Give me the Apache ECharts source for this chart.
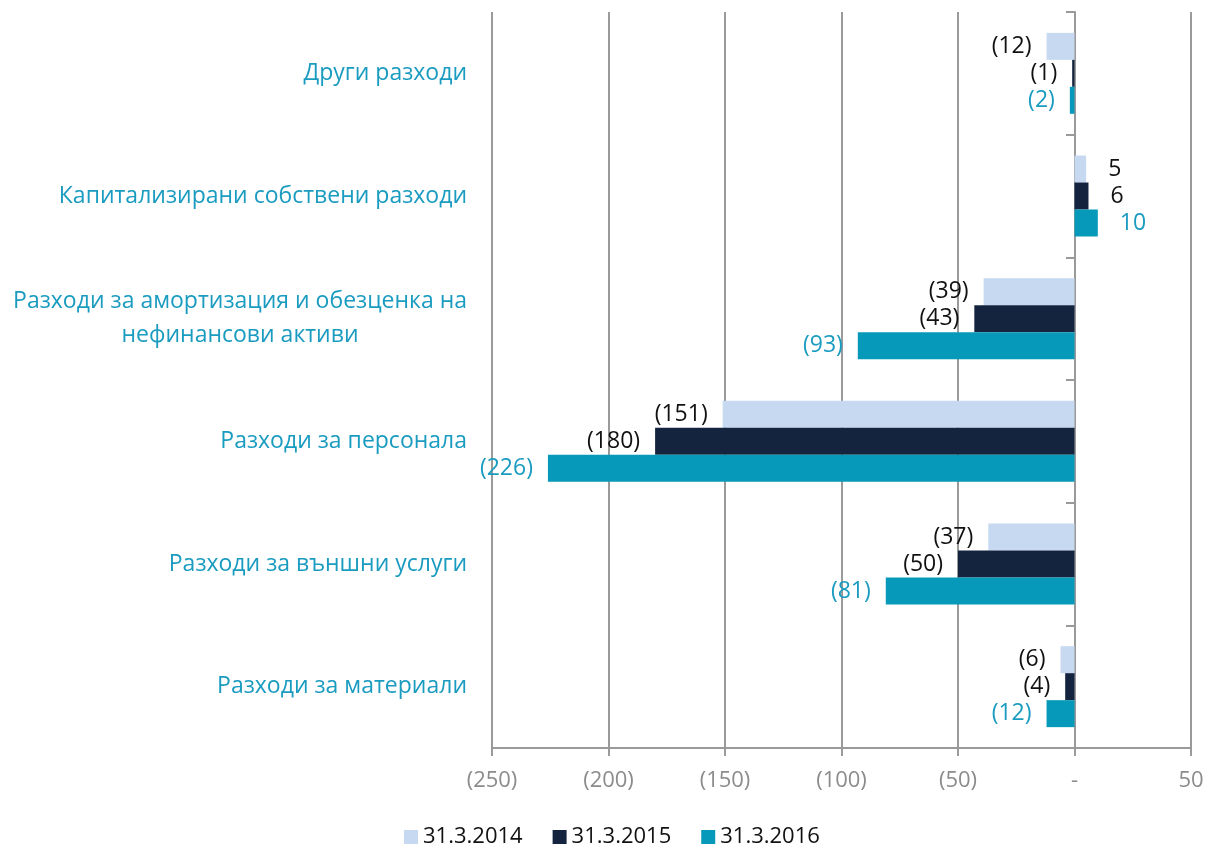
<!DOCTYPE html>
<html>
<head>
<meta charset="utf-8">
<script src="https://cdn.jsdelivr.net/npm/echarts@6/dist/echarts.min.js"></script>
<style>
  html, body { margin: 0; padding: 0; background: #fff; }
  #chart { width: 1207px; height: 851px; }
</style>
</head>
<body>
<div id="chart"></div>
<script>
// categories, top to bottom
const categories = [
  "Други разходи",
  "Капитализирани собствени разходи",
  "Разходи за амортизация и обезценка на\nнефинансови активи",
  "Разходи за персонала",
  "Разходи за външни услуги",
  "Разходи за материали"
];
const seriesNames = ["31.3.2014", "31.3.2015", "31.3.2016"];
const values2014 = [-12, 5, -39, -151, -37, -6];
const values2015 = [-1, 6, -43, -180, -50, -4];
const values2016 = [-2, 10, -93, -226, -81, -12];
const xTicks = [-250, -200, -150, -100, -50, 0, 50];

const COLORS = ["#c6d9f1", "#14243f", "#0799b9"];
const LABEL_COLORS = ["#111", "#111", "#1a9bc0"];
const GRID_GRAY = "#9a9a9a";
const FONT = "'Open Sans', sans-serif";

function fmt(v) {
  if (v === 0) return "-";
  return v < 0 ? "(" + Math.abs(v) + ")" : String(v);
}

function makeSeries(name, vals, i) {
  return {
    name: name,
    type: "bar",
    barGap: "0%",
    barCategoryGap: "34%",
    itemStyle: { color: COLORS[i] },
    data: vals.map(function (v) {
      return {
        value: v,
        label: {
          show: true,
          position: v < 0 ? "left" : "right",
          distance: v < 0 ? 15 : 22,
          formatter: function (p) { return fmt(p.value); },
          color: LABEL_COLORS[i],
          fontSize: 23,
          fontFamily: FONT
        }
      };
    })
  };
}

const series = [
  makeSeries(seriesNames[0], values2014, 0),
  makeSeries(seriesNames[1], values2015, 1),
  makeSeries(seriesNames[2], values2016, 2)
];

const chart = echarts.init(document.getElementById("chart"));
chart.setOption({
  animation: false,
  textStyle: { fontFamily: FONT },
  grid: { left: 492, right: 16, top: 12, bottom: 103, containLabel: false },
  legend: {
    top: 821,
    left: 399,
    itemWidth: 14,
    itemHeight: 14,
    itemGap: 30,
    icon: "rect",
    textStyle: { fontSize: 22, color: "#111", fontFamily: FONT },
    data: seriesNames
  },
  xAxis: {
    type: "value",
    min: xTicks[0],
    max: xTicks[xTicks.length - 1],
    interval: 50,
    axisLine: { show: true, lineStyle: { color: GRID_GRAY, width: 2 } },
    axisTick: { show: true, length: 8, lineStyle: { color: GRID_GRAY, width: 2 } },
    splitLine: { show: true, lineStyle: { color: GRID_GRAY, width: 2 } },
    axisLabel: {
      margin: 22,
      fontSize: 22,
      color: "#8c8c8c",
      fontFamily: FONT,
      formatter: fmt
    }
  },
  yAxis: [
    {
      type: "category",
      inverse: true,
      data: categories,
      axisLine: { show: false, onZero: false },
      axisTick: { show: false },
      axisLabel: {
        margin: 25,
        fontSize: 23,
        color: "#1a9bc0",
        fontFamily: FONT,
        lineHeight: 34,
        formatter: function (v) {
          return v.split("\n").map(function (l) { return "{c|" + l + "}"; }).join("\n");
        },
        rich: { c: { align: "center", fontSize: 23, color: "#1a9bc0", fontFamily: FONT, lineHeight: 34 } }
      }
    },
    {
      // zero line with category ticks
      type: "category",
      inverse: true,
      position: "right",
      offset: -116,
      data: categories,
      axisLine: { show: true, onZero: false, lineStyle: { color: GRID_GRAY, width: 2 } },
      axisTick: { show: true, inside: true, length: 9, lineStyle: { color: GRID_GRAY, width: 2 } },
      axisLabel: { show: false },
      splitLine: { show: false }
    }
  ],
  series: series
});
</script>
</body>
</html>
